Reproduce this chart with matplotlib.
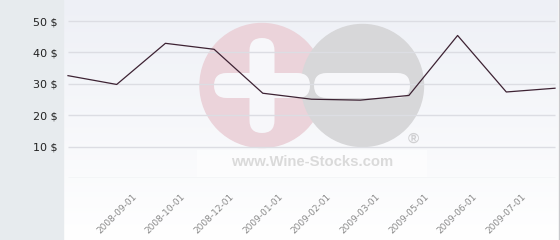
import numpy as np
from matplotlib import pyplot as plt
from matplotlib.patches import Circle, FancyBboxPatch, Rectangle

# monthly price, first and last points have no label
prices = [32.6, 29.8, 42.9, 41.0, 27.0, 25.1, 24.8, 26.3, 45.4, 27.4, 28.6]
dates = ['2008-09-01', '2008-10-01', '2008-12-01', '2009-01-01', '2009-02-01',
         '2009-03-01', '2009-05-01', '2009-06-01', '2009-07-01']
yticks = [10, 20, 30, 40, 50]

W, H = 560, 240
fig = plt.figure(figsize=(W / 100, H / 100), dpi=100)

# background in pixel coords
bg = fig.add_axes([0, 0, 1, 1])
bg.set_xlim(0, W)
bg.set_ylim(H, 0)
bg.axis('off')
grad = np.linspace(0, 1, 256).reshape(-1, 1)
top = np.array([238, 240, 246]) / 255
bot = np.array([255, 255, 255]) / 255
img = top + (bot - top) * grad[..., None]
bg.imshow(img, extent=(63, 558, H, 0), aspect='auto', zorder=0)
bg.add_patch(Rectangle((0, 0), 63, H, color='#e7ebee', zorder=1))
bg.plot([558.5, 558.5], [0, H], color='#c9c9cc', lw=1, zorder=1)

# watermark
bg.add_patch(Circle((262, 85.5), 62, color='#ebd3da', zorder=2))
bg.add_patch(Circle((362.5, 85.5), 61, color='#d7d7d9', zorder=2))
for x0, y0, w, h in [(249.5, 38, 25, 95), (214, 73, 96, 25), (314, 73, 96, 25)]:
    bg.add_patch(FancyBboxPatch((x0, y0), w, h, boxstyle='round,pad=0,rounding_size=12.5',
                                color='#f7f7fa', lw=0, zorder=3))
bg.add_patch(Rectangle((197, 150), 230, 27, color='white', alpha=0.5, lw=0, zorder=2))
bg.text(312, 162, 'www.Wine-Stocks.com', family='Liberation Sans', weight='bold',
        fontsize=10.7, color='#dadada', ha='center', va='center', zorder=4)
bg.text(413, 139, '\u00ae', family='Liberation Sans', weight='bold',
        fontsize=11, color='#d0d0d2', ha='center', va='center', zorder=4)

ax = fig.add_axes([63 / W, (H - 178) / H, 495 / W, 178 / H])
ax.patch.set_alpha(0)
x = np.arange(len(prices))
ax.set_xlim(-5 / 48.7, 10 + 3 / 48.7)
ax.set_ylim(0, 56.7)
ax.hlines([0] + yticks, 0, len(prices) - 1, color='#dcdde3', lw=1, zorder=1)
ax.plot(x, prices, color='#3d2233', lw=0.9, zorder=3)

ax.set_yticks(yticks)
ax.set_yticklabels([f'{v} $' for v in yticks], fontsize=8, color='#222222')
ax.set_xticks(range(1, len(dates) + 1))
ax.set_xticklabels(dates, rotation=45, ha='center', fontsize=6.5, color='#8a8a8a')
ax.tick_params(axis='y', length=0, pad=4)
ax.tick_params(axis='x', length=0, pad=10)
for s in ax.spines.values():
    s.set_visible(False)

fig.savefig('out.png', dpi=100)
